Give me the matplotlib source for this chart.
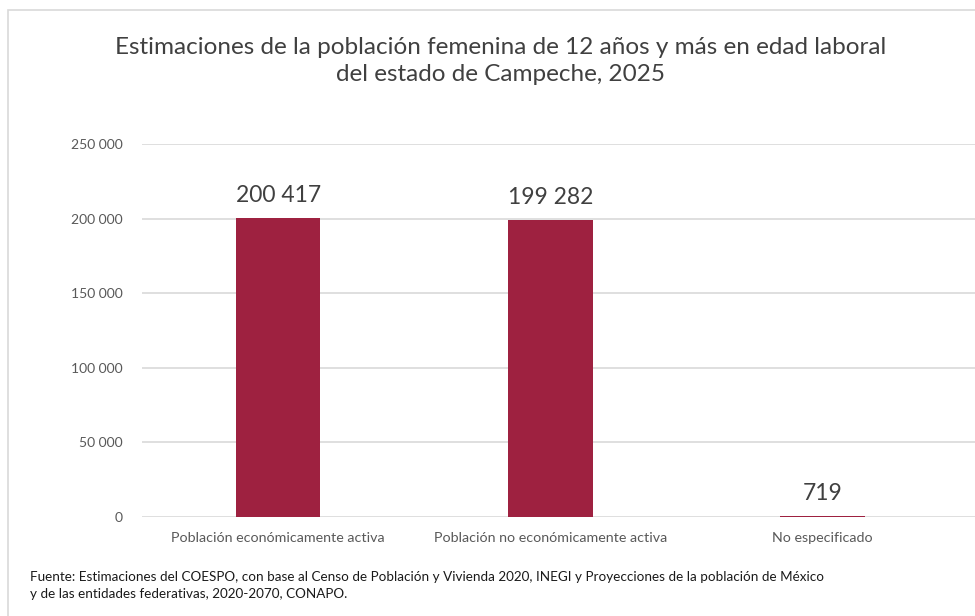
import numpy as np
import matplotlib.pyplot as plt
from matplotlib.patches import Rectangle

# Data
categories = ["Población económicamente activa", "Población no económicamente activa", "No especificado"]
values = [200417, 199282, 719]
value_labels = ["200 417", "199 282", "719"]
yticks = [0, 50000, 100000, 150000, 200000, 250000]
ytick_labels = ["0", "50 000", "100 000", "150 000", "200 000", "250 000"]

title = ("Estimaciones de la población femenina de 12 años y más en edad laboral\n"
         "del estado de Campeche, 2025")
source = ("Fuente: Estimaciones del COESPO, con base al Censo de Población y Vivienda 2020, INEGI y Proyecciones de la población de México\n"
          "y de las entidades federativas, 2020-2070, CONAPO.")

plt.rcParams['font.family'] = ['Lato', 'DejaVu Sans']

fig = plt.figure(figsize=(9.75, 6.16), dpi=100)
ax = fig.add_axes([0.1456, 0.1607, 0.8544, 0.6055])

# frame around the chart
fig.patches.append(Rectangle((8/975, -0.1), 1.2, 1 - 10/616 + 0.1, transform=fig.transFigure,
                             fill=False, edgecolor='#d9d9d9', linewidth=1.2))

x = np.arange(len(categories))
ax.bar(x, values, width=0.31, color='#9e2140', zorder=3)
for xi, v, lab in zip(x, values, value_labels):
    ax.text(xi, v + 8000, lab, ha='center', va='bottom', fontsize=16.5, color='#404040')

ax.set_xlim(-0.5, 2.56)
ax.set_ylim(0, 250000)
ax.set_yticks(yticks)
ax.set_yticklabels(ytick_labels, fontsize=10, color='#595959')
ax.set_xticks(x)
ax.set_xticklabels(categories, fontsize=10.3, color='#595959')
ax.tick_params(length=0)
ax.tick_params(axis='x', pad=11)
ax.tick_params(axis='y', pad=14)
ax.grid(axis='y', color='#d9d9d9', linewidth=1.2, zorder=0)
for s in ax.spines.values():
    s.set_visible(False)

fig.text(0.513, 0.94, title, ha='center', va='top', fontsize=17.5, color='#404040', linespacing=1.35)
fig.text(0.031, 0.05, source, ha='left', va='center', fontsize=9.7, color='#1a1a1a', linespacing=1.5)

fig.savefig('out.png', dpi=100)
